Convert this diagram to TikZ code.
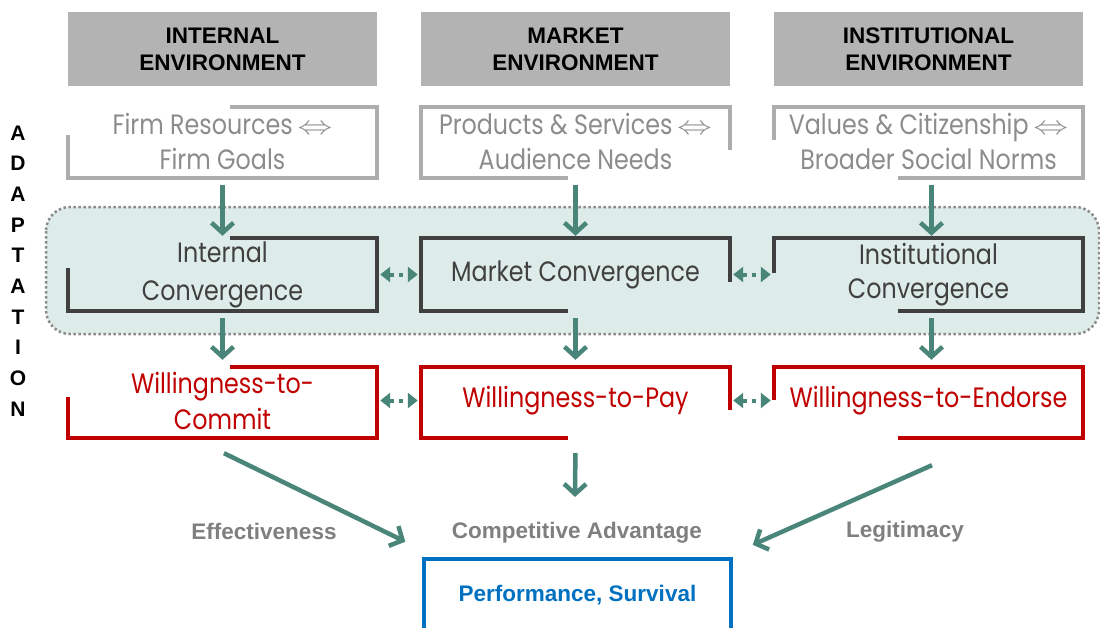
\documentclass[tikz,border=0pt]{standalone}
\usepackage{fontspec}
\usepackage{graphicx}
\setmainfont{Liberation Sans}
\newfontfamily\geo[FakeStretch=0.85]{Poppins}
\usetikzlibrary{arrows.meta,calc}
\definecolor{hdrgray}{HTML}{B3B3B3}
\definecolor{envgray}{HTML}{ADADAD}
\definecolor{envtext}{HTML}{8C8C8C}
\definecolor{convgray}{HTML}{404040}
\definecolor{wtred}{HTML}{C00000}
\definecolor{arrteal}{HTML}{4A857A}
\definecolor{panelfill}{HTML}{DEECE9}
\definecolor{perfblue}{HTML}{0070C0}
\definecolor{lblgray}{HTML}{7F7F7F}
\newcommand{\dblarr}{\,\scalebox{1.4}[1.05]{$\Leftrightarrow$}}
\tikzset{
  hdr/.style={fill=hdrgray, minimum width=309pt, minimum height=74pt, align=center, inner sep=0pt, font=\fontsize{22.5}{27}\selectfont\bfseries},
  blk/.style={minimum width=309pt, minimum height=71pt, align=center, inner sep=0pt},
  env/.style={blk, text=envtext, font=\geo\fontsize{28}{35}\selectfont},
  conv/.style={blk, minimum height=73pt, text=convgray, font=\geo\fontsize{28}{38}\selectfont},
  will/.style={blk, text=wtred, font=\geo\fontsize{28}{36}\selectfont},
  frm/.style={line width=4pt, line join=miter},
  arr/.style={line width=4.5pt, color=arrteal, -{Straight Barb[length=10pt,width=22pt]}},
  dotarr/.style={line width=4pt, color=arrteal, dash pattern=on 4pt off 5pt, {Triangle[length=10pt,width=15pt]}-{Triangle[length=10pt,width=15pt]}},
  lbl/.style={text=lblgray, font=\fontsize{22.5}{27}\selectfont\bfseries},
}
\begin{document}
\begin{tikzpicture}[x=1pt,y=-1pt]
			%%%%% START %%%%%
			\clip (0,0) rectangle (1100,627);
			
			% adaptation panel
			\draw[fill=panelfill, draw=black!45, line width=2.5pt, dash pattern=on 2.5pt off 2.5pt, rounded corners=24pt] (46,207) rectangle (1099,334);
			\node[align=center, inner sep=0pt, font=\fontsize{21}{30.7}\selectfont\bfseries] (adapt) at (18,271) {A\\D\\A\\P\\T\\A\\T\\I\\O\\N};
			
			% environments
			\node[hdr] (inthdr) at (222.5,49) {INTERNAL\\ENVIRONMENT};
			\node[hdr] (mkthdr) at (575.5,49) {MARKET\\ENVIRONMENT};
			\node[hdr] (insthdr) at (928.5,49) {INSTITUTIONAL\\ENVIRONMENT};
			
			\node[env] (firm) at (222.5,141) {Firm Resources\dblarr\\Firm Goals};
			\node[env] (prod) at (575.5,141) {Products \& Services\dblarr\\Audience Needs};
			\node[env] (vals) at (928.5,141) {Values \& Citizenship\dblarr\\Broader Social Norms};
			
			\draw[frm, envgray] ($(firm.north west)+(162,1.5)$) -- ($(firm.north east)+(0,1.5)$) -- ($(firm.south east)+(0,1.5)$) -- ($(firm.south west)+(0,1.5)$) -- ++(0,-43);
			\draw[frm, envgray] ($(prod.north east)+(0,44.5)$) -- ($(prod.north east)+(0,1.5)$) -- ($(prod.north west)+(0,1.5)$) -- ($(prod.south west)+(0,1.5)$) -- ++(147,0);
			\draw[frm, envgray] ($(vals.north west)+(0,34.5)$) -- ($(vals.north west)+(0,1.5)$) -- ($(vals.north east)+(0,1.5)$) -- ($(vals.south east)+(0,1.5)$) -- ++(-185,0);
			
			% convergence
			\node[conv] (intc) at (222.5,274.5) {Internal\\Convergence};
			\node[conv] (mktc) at (575.5,274.5) {Market Convergence};
			\node[conv, font=\geo\fontsize{28}{34}\selectfont] (instc) at (928.5,274.5) {Institutional\\Convergence};
			
			\draw[frm, convgray] ($(intc.north west)+(162,0)$) -- (intc.north east) -- (intc.south east) -- (intc.south west) -- ++(0,-43);
			\draw[frm, convgray] ($(mktc.north east)+(0,44)$) -- (mktc.north east) -- (mktc.north west) -- (mktc.south west) -- ++(147,0);
			\draw[frm, convgray] ($(instc.north west)+(0,35)$) -- (instc.north west) -- (instc.north east) -- (instc.south east) -- ++(-185,0);
			
			% willingness
			\node[will] (commit) at (222.5,400.5) {Willingness-to-\\Commit};
			\node[will] (pay) at (575.5,400.5) {Willingness-to-Pay};
			\node[will] (endorse) at (928.5,400.5) {Willingness-to-Endorse};
			
			\draw[frm, wtred] ($(commit.north west)+(162,2)$) -- ($(commit.north east)+(0,2)$) -- ($(commit.south east)+(0,2)$) -- ($(commit.south west)+(0,2)$) -- ++(0,-41);
			\draw[frm, wtred] ($(pay.north east)+(0,45)$) -- ($(pay.north east)+(0,2)$) -- ($(pay.north west)+(0,2)$) -- ($(pay.south west)+(0,2)$) -- ++(147,0);
			\draw[frm, wtred] ($(endorse.north west)+(0,35)$) -- ($(endorse.north west)+(0,2)$) -- ($(endorse.north east)+(0,2)$) -- ($(endorse.south east)+(0,2)$) -- ++(-185,0);
			
			% arrows down
			\draw[arr, shorten <=8pt, shorten >=2pt] (firm.south) -- (intc.north);
			\draw[arr, shorten <=8pt, shorten >=2pt] (prod.south) -- (mktc.north);
			\draw[arr, shorten <=8pt, shorten >=2pt] ($(vals.south)+(3,0)$) -- ($(instc.north)+(3,0)$);
			\draw[arr, shorten <=7pt, shorten >=5pt] (intc.south) -- (commit.north);
			\draw[arr, shorten <=7pt, shorten >=5pt] (mktc.south) -- (pay.north);
			\draw[arr, shorten <=7pt, shorten >=5pt] ($(instc.south)+(3,0)$) -- ($(endorse.north)+(3,0)$);
			
			% dotted links
			\draw[dotarr, shorten <=3pt, shorten >=3pt] (intc.east) -- (mktc.west);
			\draw[dotarr, shorten <=3pt, shorten >=3pt] (mktc.east) -- (instc.west);
			\draw[dotarr, shorten <=3pt, shorten >=3pt] (commit.east) -- (pay.west);
			\draw[dotarr, shorten <=3pt, shorten >=3pt] (pay.east) -- (endorse.west);
			
			% outcome
			\node[lbl] (effect) at (264,531) {Effectiveness};
			\node[lbl] (cadv) at (577,533) {Competitive Advantage};
			\node[lbl] (legit) at (905,532) {Legitimacy};
			\node[draw=perfblue, line width=4pt, minimum width=307pt, minimum height=72pt, text=perfblue, font=\fontsize{22.5}{27}\selectfont\bfseries] (perf) at (577.5,595) {Performance, Survival};
			
			\draw[arr, shorten >=3pt] ($(commit.south)+(1.5,17)$) -- ($(perf.north west)+(-14,-14)$);
			\draw[arr, shorten <=17pt, shorten >=3pt] (pay.south) -- ($(cadv.north)+(-2,-19)$);
			\draw[arr, shorten >=3pt] ($(endorse.south)+(3.5,29)$) -- ($(perf.north east)+(17,-11)$);
			
			%%%%% END %%%%%
\end{tikzpicture}
\end{document}
